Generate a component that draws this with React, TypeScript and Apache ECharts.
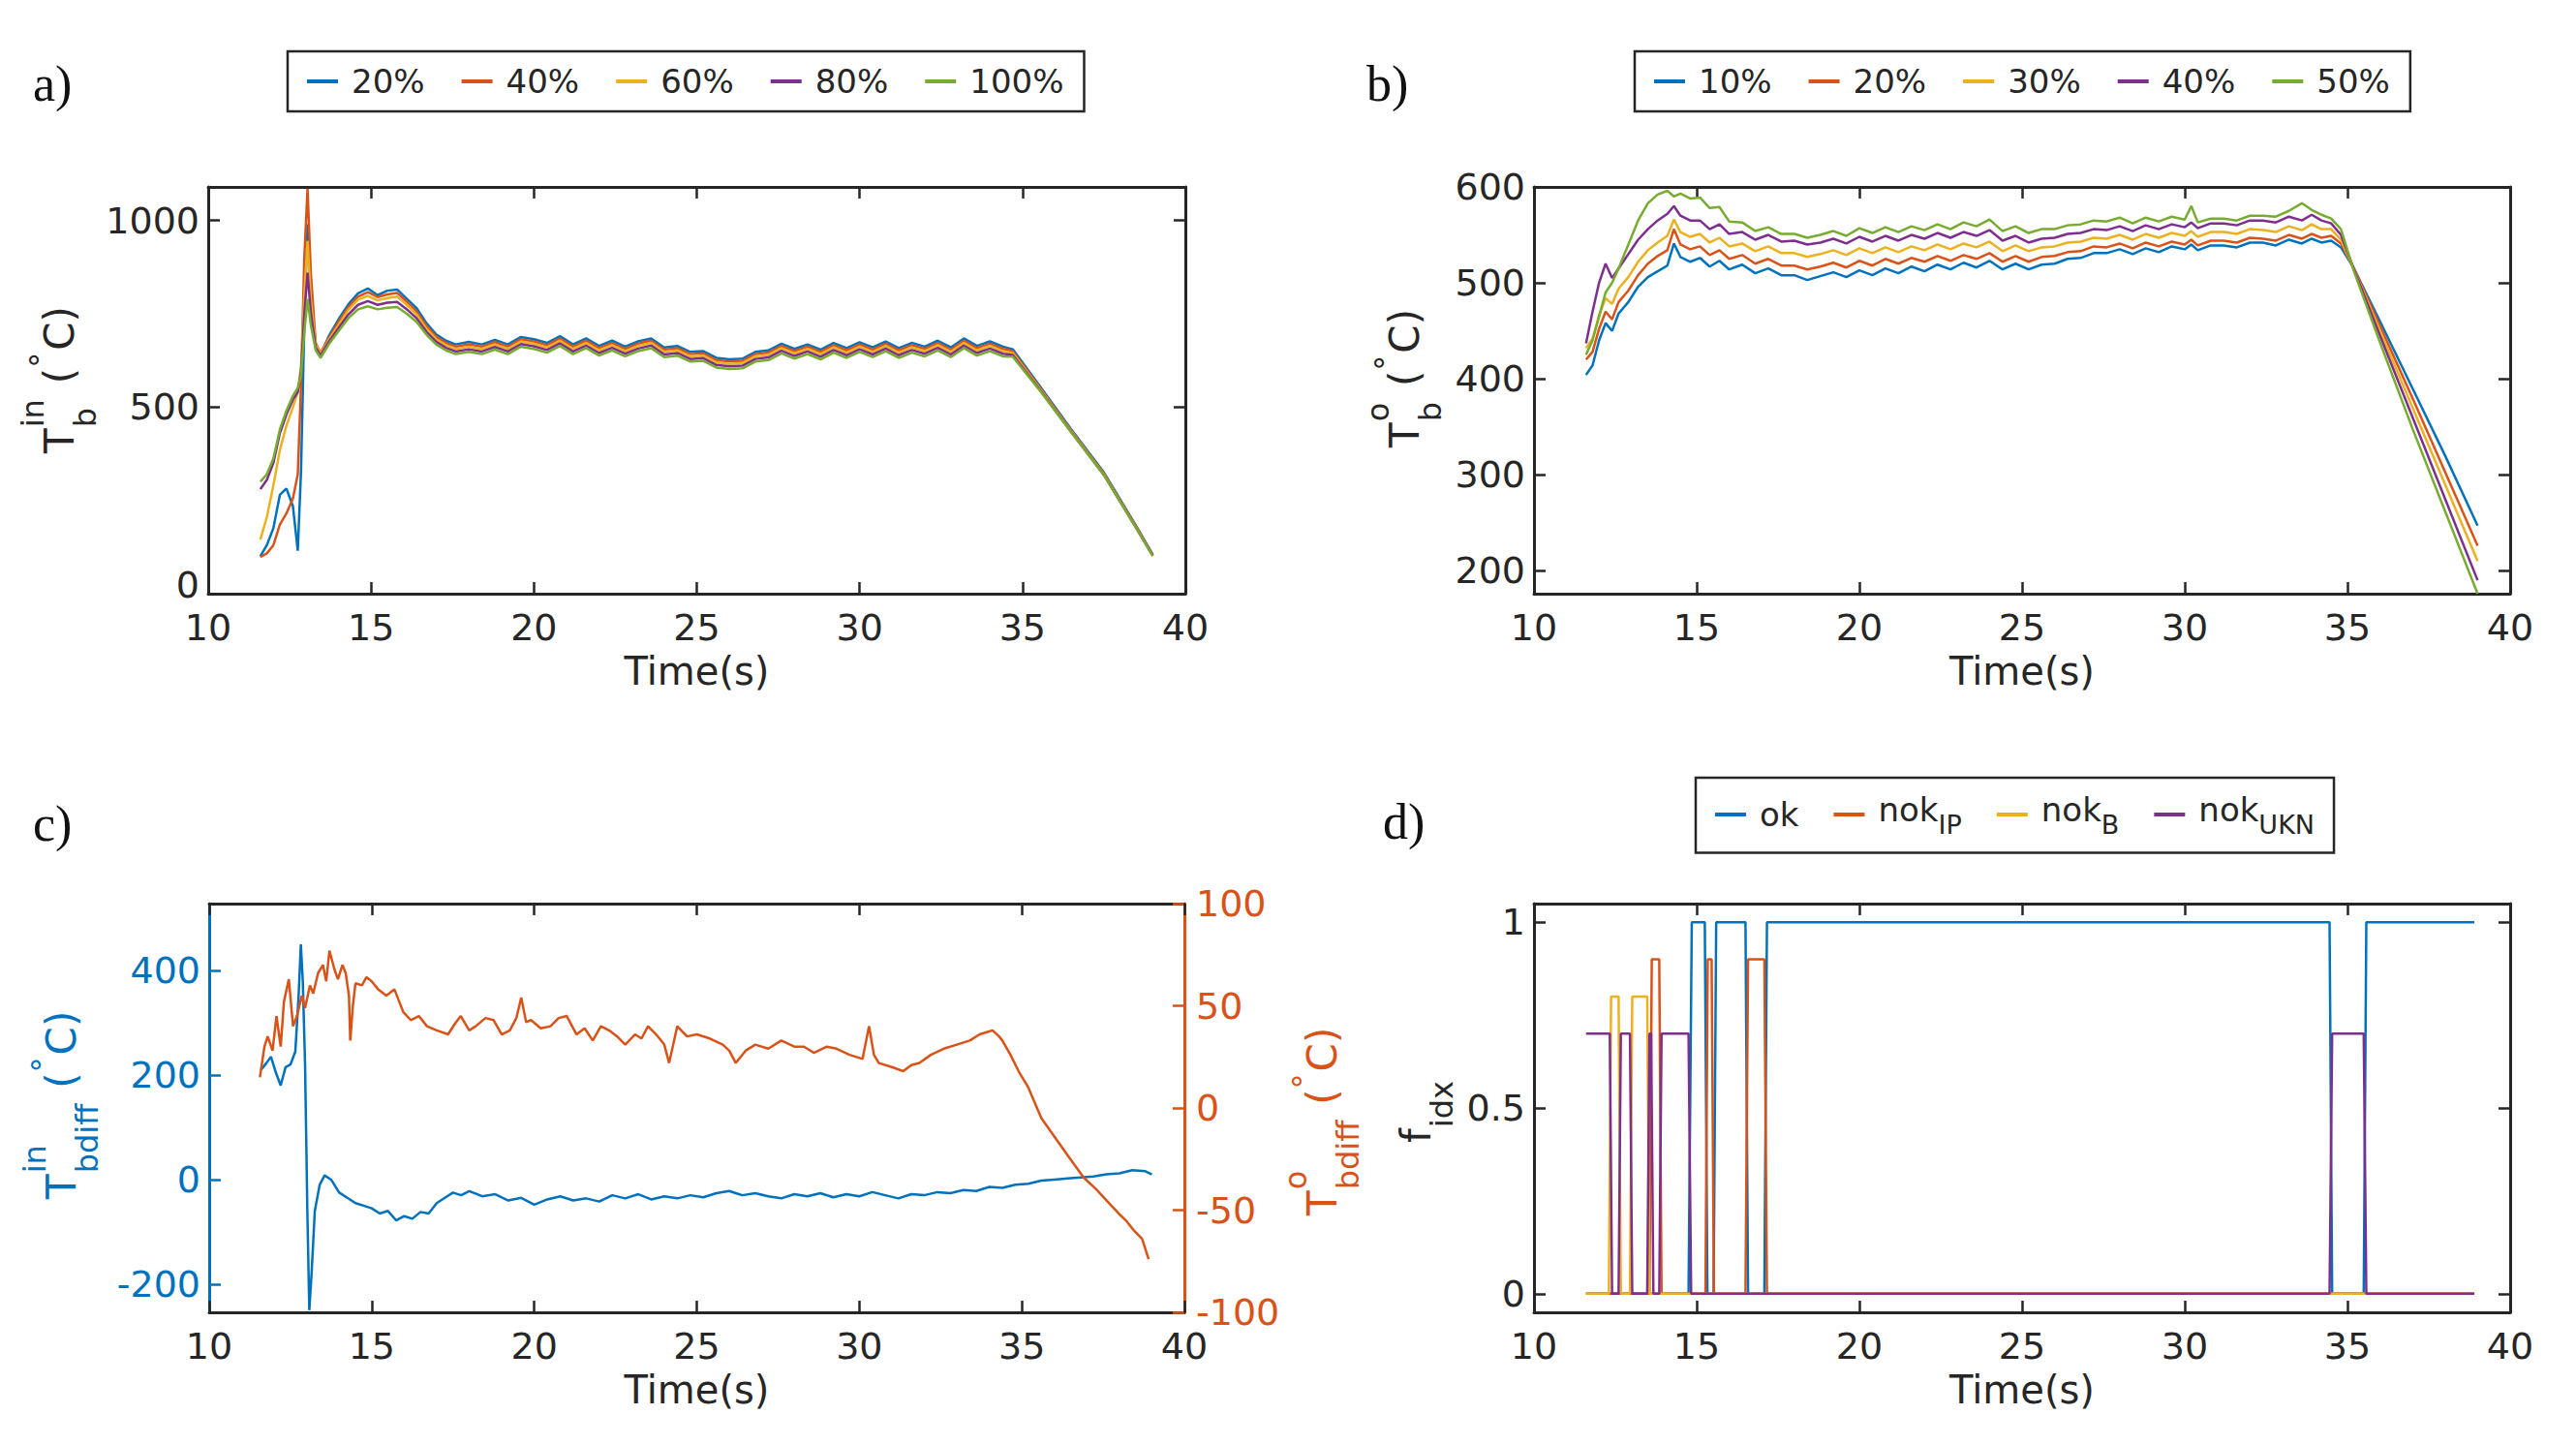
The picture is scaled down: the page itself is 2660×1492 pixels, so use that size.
import React, { useEffect, useRef } from 'react';
import * as echarts from 'echarts';

// ---- a) inner bar temperature, one line per position ----
const tA = [
  11.6, 11.8, 12.0, 12.2, 12.4, 12.6, 12.75, 12.85, 12.95, 13.05,
  13.15, 13.3, 13.45, 13.7, 14.0, 14.3, 14.6, 14.9, 15.2, 15.5,
  15.8, 16.1, 16.4, 16.7, 17.0, 17.3, 17.6, 18.0, 18.4, 18.8,
  19.2, 19.6, 20.0, 20.4, 20.8, 21.2, 21.6, 22.0, 22.4, 22.8,
  23.2, 23.6, 24.0, 24.4, 24.8, 25.2, 25.6, 26.0, 26.4, 26.8,
  27.2, 27.6, 28.0, 28.4, 28.8, 29.2, 29.6, 30.0, 30.4, 30.8,
  31.2, 31.6, 32.0, 32.4, 32.8, 33.2, 33.6, 34.0, 34.4, 34.7,
  35.5, 36.5, 37.5, 38.5, 39.0,
];
const a20 = [
  100, 130, 175, 265, 282, 235, 115, 330, 720, 990,
  800, 665, 640, 690, 735, 775, 805, 818, 800, 812,
  815, 790, 765, 725, 695, 678, 668, 675, 668, 680,
  668, 688, 682, 672, 690, 668, 684, 664, 678, 662,
  676, 684, 660, 664, 648, 650, 632, 628, 630, 648,
  652, 670, 656, 668, 654, 672, 658, 674, 660, 676,
  658, 672, 662, 678, 660, 684, 664, 676, 662, 655,
  560, 440, 325, 180, 105,
];
const a40 = [
  98, 108, 130, 185, 215, 255, 320, 560, 900, 1085,
  860, 672, 645, 685, 728, 768, 796, 808, 795, 802,
  806, 782, 756, 718, 688, 672, 662, 668, 662, 674,
  662, 682, 676, 666, 684, 662, 678, 658, 672, 656,
  670, 678, 654, 658, 642, 644, 626, 622, 624, 642,
  646, 664, 650, 662, 648, 666, 652, 668, 654, 670,
  652, 666, 656, 672, 654, 678, 658, 670, 656, 650,
  556, 437, 322, 178, 103,
];
const a60 = [
  145, 205, 290, 385, 450, 500, 540, 610, 800, 945,
  790, 668, 642, 680, 720, 760, 788, 798, 786, 792,
  796, 774, 748, 710, 682, 666, 656, 662, 656, 668,
  656, 676, 670, 660, 678, 656, 672, 652, 666, 650,
  664, 672, 648, 652, 636, 638, 620, 616, 618, 636,
  640, 658, 644, 656, 642, 660, 646, 662, 648, 664,
  646, 660, 650, 666, 648, 672, 652, 664, 650, 645,
  553, 435, 320, 176, 102,
];
const a80 = [
  280, 305, 350, 430, 480, 520, 540, 595, 750, 860,
  755, 660, 638, 675, 712, 748, 774, 784, 774, 780,
  782, 762, 738, 702, 675, 659, 649, 655, 649, 661,
  649, 669, 663, 653, 671, 649, 665, 645, 659, 643,
  657, 665, 641, 645, 629, 631, 613, 609, 611, 629,
  633, 651, 637, 649, 635, 653, 639, 655, 641, 657,
  639, 653, 643, 659, 641, 665, 645, 657, 643, 640,
  550, 433, 318, 175, 102,
];
const a100 = [
  300, 320, 362, 440, 490, 530, 552, 585, 700, 790,
  720, 652, 632, 668, 703, 738, 762, 770, 762, 766,
  768, 750, 728, 694, 668, 652, 642, 648, 642, 654,
  642, 662, 656, 646, 664, 642, 658, 638, 652, 636,
  650, 658, 634, 638, 622, 624, 606, 602, 604, 622,
  626, 644, 630, 642, 628, 646, 632, 648, 634, 650,
  632, 646, 636, 652, 634, 658, 638, 650, 636, 635,
  548, 432, 318, 174, 101,
];

// ---- b) outer bar temperature ----
const tB = [
  11.6, 11.8, 12.0, 12.2, 12.4, 12.6, 12.9, 13.2, 13.5, 13.8,
  14.1, 14.3, 14.5, 14.8, 15.1, 15.4, 15.7, 16.0, 16.4, 16.8,
  17.2, 17.6, 18.0, 18.4, 18.8, 19.2, 19.6, 20.0, 20.4, 20.8,
  21.2, 21.6, 22.0, 22.4, 22.8, 23.2, 23.6, 24.0, 24.4, 24.8,
  25.2, 25.6, 26.0, 26.4, 26.8, 27.2, 27.6, 28.0, 28.4, 28.8,
  29.2, 29.6, 30.0, 30.2, 30.4, 30.8, 31.2, 31.6, 32.0, 32.4,
  32.8, 33.2, 33.6, 33.9, 34.2, 34.5, 34.8, 35.2, 36.0, 37.0,
  38.0, 39.0,
];
const b10 = [
  404, 414, 440, 458, 450, 468, 480, 496, 506, 512,
  518, 541, 527, 522, 526, 517, 523, 514, 519, 510,
  515, 508, 508, 503, 507, 511, 506, 513, 508, 515,
  510, 517, 512, 519, 514, 521, 516, 523, 514, 520,
  514, 519, 520, 525, 526, 531, 531, 535, 530, 536,
  532, 538, 535, 540, 534, 539, 539, 537, 542, 542,
  539, 545, 541, 546, 542, 544, 537, 515, 460, 390,
  320, 247,
];
const b20 = [
  420, 428, 452, 470, 462, 480, 492, 508, 520, 528,
  534, 556, 540, 535, 538, 529, 534, 525, 529, 520,
  525, 518, 518, 514, 517, 521, 516, 523, 518, 525,
  520, 526, 522, 528, 523, 529, 525, 531, 522, 528,
  522, 527, 528, 532, 533, 538, 537, 541, 536, 542,
  538, 543, 540, 545, 539, 544, 544, 542, 547, 546,
  544, 550, 546, 551, 547, 549, 541, 515, 455, 380,
  303, 226,
];
const b30 = [
  432, 442, 466, 484, 478, 494, 506, 522, 534, 542,
  549, 566, 553, 548, 551, 542, 547, 538, 541, 533,
  538, 531, 531, 527, 530, 534, 529, 536, 531, 537,
  532, 538, 534, 540, 535, 541, 537, 543, 533, 539,
  533, 537, 538, 542, 543, 547, 546, 550, 545, 551,
  547, 552, 549, 554, 548, 553, 553, 551, 556, 555,
  553, 559, 555, 561, 556, 556, 545, 514, 450, 370,
  290, 210,
];
const b40 = [
  437, 470, 500, 520, 505, 515, 530, 545, 556, 565,
  572, 580, 570, 565, 565, 556, 561, 551, 553, 545,
  550, 543, 544, 540, 542, 546, 541, 548, 543, 549,
  544, 550, 546, 552, 547, 553, 549, 555, 544, 549,
  542, 546, 547, 551, 552, 556, 555, 559, 554, 560,
  556, 561, 558, 563, 557, 562, 562, 560, 565, 565,
  563, 569, 565, 571, 565, 562, 550, 514, 445, 360,
  275, 190,
];
const b50 = [
  425, 440, 465, 490, 500, 515, 540, 565, 583, 592,
  596, 590, 593, 588, 589, 578, 579, 564, 563, 554,
  558, 551, 551, 547, 550, 554, 549, 557, 552, 558,
  553, 559, 555, 561, 556, 563, 559, 566, 554, 559,
  552, 556, 556, 560, 561, 565, 564, 568, 562, 568,
  564, 569, 566, 580, 563, 567, 567, 565, 570, 570,
  569, 575, 583, 576, 571, 567, 556, 512, 438, 348,
  262, 176,
];

// ---- c) temperature differences (left: inner, right: outer) ----
const tC1 = [
  11.6, 11.75, 11.9, 12.05, 12.2, 12.35, 12.5, 12.65, 12.75, 12.82,
  12.88, 12.95, 13.02, 13.08, 13.15, 13.25, 13.4, 13.55, 13.75, 14.0,
  14.25, 14.5, 14.75, 15.0, 15.25, 15.5, 15.75, 16.0, 16.25, 16.5,
  16.75, 17.0, 17.25, 17.5, 17.75, 18.0, 18.4, 18.8, 19.2, 19.6,
  20.0, 20.4, 20.8, 21.2, 21.6, 22.0, 22.4, 22.8, 23.2, 23.6,
  24.0, 24.4, 24.8, 25.2, 25.6, 26.0, 26.4, 26.8, 27.2, 27.6,
  28.0, 28.4, 28.8, 29.2, 29.6, 30.0, 30.4, 30.8, 31.2, 31.6,
  32.0, 32.4, 32.8, 33.2, 33.6, 34.0, 34.4, 34.8, 35.2, 35.6,
  36.0, 36.4, 36.8, 37.2, 37.6, 38.0, 38.4, 38.8, 39.0,
];
const cIn = [
  210, 222, 235, 205, 180, 215, 220, 245, 350, 450,
  380, 220, -60, -250, -180, -60, -10, 8, 0, -25,
  -35, -45, -50, -55, -65, -60, -78, -70, -75, -62,
  -65, -45, -35, -25, -30, -22, -32, -28, -40, -35,
  -48, -38, -32, -40, -36, -42, -30, -36, -28, -38,
  -32, -36, -30, -34, -26, -22, -30, -26, -32, -36,
  -28, -32, -26, -34, -28, -32, -24, -30, -36, -28,
  -30, -24, -26, -20, -22, -14, -16, -10, -8, -2,
  0, 2, 4, 6, 10, 12, 18, 16, 10,
];
const tC2 = [
  11.56, 11.7, 11.8, 11.95, 12.07, 12.2, 12.3, 12.45, 12.58, 12.7,
  12.85, 12.95, 13.1, 13.2, 13.35, 13.5, 13.6, 13.7, 13.85, 13.96,
  14.1, 14.2, 14.3, 14.34, 14.42, 14.5, 14.7, 14.84, 15.0, 15.2,
  15.45, 15.7, 15.97, 16.2, 16.45, 16.7, 17.0, 17.35, 17.55, 17.74,
  18.0, 18.2, 18.5, 18.75, 19.0, 19.25, 19.45, 19.6, 19.75, 19.9,
  20.2, 20.5, 20.75, 21.0, 21.3, 21.55, 21.8, 22.05, 22.3, 22.55,
  22.8, 23.1, 23.3, 23.5, 23.75, 24.0, 24.15, 24.4, 24.7, 25.0,
  25.4, 25.8, 26.0, 26.2, 26.5, 26.8, 27.2, 27.6, 28.0, 28.3,
  28.6, 29.0, 29.3, 29.7, 30.1, 30.3, 30.45, 30.6, 31.0, 31.35,
  31.6, 31.85, 32.2, 32.6, 33.0, 33.4, 33.7, 34.1, 34.3, 34.4,
  34.65, 34.9, 35.2, 35.6, 36.0, 36.4, 36.9, 37.3, 37.65, 38.0,
  38.2, 38.45, 38.7, 38.9,
];
const cOut = [
  15, 30, 35, 28, 45, 30, 52, 63, 40, 45,
  55, 49, 60, 56, 66, 70, 62, 77, 68, 63,
  70, 66, 55, 33, 50, 61, 60, 64, 62, 58,
  55, 58, 47, 43, 45, 40, 38, 36, 41, 45,
  38, 40, 44, 43, 36, 38, 44, 54, 42, 43,
  39, 40, 44, 45, 36, 39, 33, 40, 38, 35,
  31, 36, 34, 40, 36, 31, 22, 40, 35, 36,
  34, 31, 28, 22, 28, 31, 29, 33, 30, 30,
  27, 30, 29, 26, 24, 40, 26, 22, 20, 18,
  21, 22, 26, 29, 31, 33, 36, 38, 35, 33,
  26, 18, 10, -5, -14, -23, -34, -40, -46, -52,
  -55, -60, -64, -74,
];

// ---- d) fault index steps ----
const okT = [11.6, 14.75, 14.85, 15.25, 15.33, 15.52, 15.6, 16.5, 16.58, 17.08, 17.16, 34.45, 34.53, 35.5, 35.58, 38.9];
const okV = [0, 0, 1, 1, 0, 0, 1, 1, 0, 0, 1, 1, 0, 0, 1, 1];
const ipT = [11.6, 13.55, 13.62, 13.85, 13.92, 15.27, 15.34, 15.46, 15.53, 16.5, 16.58, 17.08, 17.16, 38.9];
const ipV = [0, 0, 0.9, 0.9, 0, 0, 0.9, 0.9, 0, 0, 0.9, 0.9, 0, 0];
const bT = [11.6, 12.3, 12.37, 12.6, 12.67, 12.95, 13.02, 13.48, 13.55, 38.9];
const bV = [0, 0, 0.8, 0.8, 0, 0, 0.8, 0.8, 0, 0];
const ukT = [11.6, 12.33, 12.4, 12.6, 12.67, 12.95, 13.02, 13.48, 13.55, 13.6, 13.67, 13.85, 13.92, 14.75, 14.83, 34.45, 34.53, 35.5, 35.58, 38.9];
const ukV = [0.7, 0.7, 0, 0, 0.7, 0.7, 0, 0, 0.7, 0.7, 0, 0, 0.7, 0.7, 0, 0, 0.7, 0.7, 0, 0];

const xTicks = [10, 15, 20, 25, 30, 35, 40];
const yTicksA = [0, 500, 1000];
const yTicksB = [200, 300, 400, 500, 600];
const yTicksCin = [-200, 0, 200, 400];
const yTicksCout = [-100, -50, 0, 50, 100];
const yTicksD = [0, 0.5, 1];

const BLUE = '#0072BD';
const ORANGE = '#D95319';
const YELLOW = '#EDB120';
const PURPLE = '#7E2F8E';
const GREEN = '#77AC30';
const INK = '#262626';
const FONT = 'DejaVu Sans';

const pairs = (t: number[], v: number[]) => t.map((x, i) => [x, v[i]]);

const line = (name: string, t: number[], v: number[], color: string, xi: number, yi: number) => ({
  type: 'line',
  name,
  data: pairs(t, v),
  xAxisIndex: xi,
  yAxisIndex: yi,
  symbol: 'none',
  showSymbol: false,
  silent: true,
  lineStyle: { color, width: 2.5 },
  itemStyle: { color },
});

const plain = (v: number) => String(v);
// the bottom "0" of panel a sits right above the x label "10"; lift it a little
const liftZero = (v: number) => (v === 0 ? '{z|0}' : String(v));

const xAxes = (gi: number) => [
  {
    type: 'value', gridIndex: gi, position: 'bottom', min: 10, max: 40, interval: 5,
    axisLine: { onZero: false, lineStyle: { color: INK, width: 3 } },
    axisTick: { inside: true, length: 12, customValues: xTicks, lineStyle: { color: INK, width: 2.5 } },
    axisLabel: {
      margin: 20, fontSize: 38, lineHeight: 30, color: INK, fontFamily: FONT,
      customValues: xTicks, formatter: plain,
    },
    splitLine: { show: false },
    name: 'Time(s)', nameLocation: 'middle', nameGap: 60,
    nameTextStyle: { fontSize: 40, color: INK, fontFamily: FONT },
  },
  {
    type: 'value', gridIndex: gi, position: 'top', min: 10, max: 40, interval: 5,
    axisLine: { onZero: false, lineStyle: { color: INK, width: 3 } },
    axisTick: { inside: true, length: 12, customValues: xTicks, lineStyle: { color: INK, width: 2.5 } },
    axisLabel: { show: false },
    splitLine: { show: false },
  },
];

const yAxis = (
  gi: number, pos: string, min: number, max: number, ticks: number[], color: string, labels: boolean,
  fmt: (v: number) => string = plain,
) => ({
  type: 'value', gridIndex: gi, position: pos, min, max,
  axisLine: { show: true, onZero: false, lineStyle: { color, width: 3 } },
  axisTick: { show: true, inside: true, length: 12, customValues: ticks, lineStyle: { color, width: 2.5 } },
  axisLabel: {
    show: labels, margin: pos === 'left' ? 9 : 12, fontSize: 38, lineHeight: 30, color, fontFamily: FONT,
    customValues: ticks, formatter: fmt,
    rich: { z: { fontSize: 38, lineHeight: 30, color, fontFamily: FONT, padding: [0, 0, 18, 0] } },
  },
  splitLine: { show: false },
});

let measureCtx: CanvasRenderingContext2D | null = null;
const tw = (s: string, size: number) => {
  if (!measureCtx) measureCtx = document.createElement('canvas').getContext('2d');
  measureCtx!.font = `${size}px "${FONT}"`;
  return measureCtx!.measureText(s).width;
};

const txt = (text: string, x: number, y: number, size: number, color: string, family = FONT) => ({
  type: 'text', x, y, silent: true,
  style: {
    text, fontSize: size, fontFamily: family, fill: color,
    align: 'left', verticalAlign: 'middle', textAlign: 'left', textVerticalAlign: 'middle',
  },
});

// rotated y title: main letter with stacked super/subscript, optional (°C)
const yTitle = (bx: number, by: number, color: string, main: string, sup: string, sub: string, unit: boolean) => {
  const F = 42, S = 32, k = 0.34;
  const x0 = tw(main, F) + 1;
  const w = Math.max(sup ? tw(sup, S) : 0, sub ? tw(sub, S) : 0);
  const kids: any[] = [txt(main, 0, -k * F, F, color)];
  if (sup) kids.push(txt(sup, x0, -31 - k * S, S, color));
  if (sub) kids.push(txt(sub, x0, 23 - k * S, S, color));
  if (unit) {
    let p = x0 + w + 16;
    kids.push(txt('(', p, -k * F, F, color));
    p += tw('(', F);
    kids.push(txt('°', p, -22 - k * S, S, color));
    p += tw('°', S) + 2;
    kids.push(txt('C)', p, -k * F, F, color));
  }
  return { type: 'group', x: bx, y: by, rotation: Math.PI / 2, children: kids };
};

const legendBase = {
  orient: 'horizontal',
  icon: 'rect',
  itemWidth: 32,
  itemHeight: 4,
  itemGap: 38,
  padding: [14, 21, 14, 20],
  borderColor: INK,
  borderWidth: 2.5,
  backgroundColor: '#ffffff',
  selectedMode: false,
  textStyle: { fontSize: 34, color: INK, fontFamily: FONT, padding: [0, 0, 0, 9] },
};

const buildOption = () => ({
  animation: false,
  backgroundColor: '#ffffff',
  textStyle: { fontFamily: FONT },
  grid: [
    { left: 215, top: 193, width: 1009, height: 420, containLabel: false, outerBoundsMode: 'none' },
    { left: 1584, top: 193, width: 1008, height: 420, containLabel: false, outerBoundsMode: 'none' },
    { left: 216, top: 933, width: 1007, height: 422, containLabel: false, outerBoundsMode: 'none' },
    { left: 1584, top: 933, width: 1008, height: 422, containLabel: false, outerBoundsMode: 'none' },
  ],
  xAxis: [...xAxes(0), ...xAxes(1), ...xAxes(2), ...xAxes(3)],
  yAxis: [
    yAxis(0, 'left', 0, 1090, yTicksA, INK, true, liftZero),
    yAxis(0, 'right', 0, 1090, yTicksA, INK, false),
    yAxis(1, 'left', 176, 600, yTicksB, INK, true),
    yAxis(1, 'right', 176, 600, yTicksB, INK, false),
    yAxis(2, 'left', -254, 528, yTicksCin, BLUE, true),
    yAxis(2, 'right', -100, 100, yTicksCout, ORANGE, true),
    yAxis(3, 'left', -0.05, 1.05, yTicksD, INK, true),
    yAxis(3, 'right', -0.05, 1.05, yTicksD, INK, false),
  ],
  legend: [
    {
      ...legendBase, left: 297, top: 53,
      data: ['a20', 'a40', 'a60', 'a80', 'a100'],
      formatter: (n: string) => n.slice(1) + '%',
    },
    {
      ...legendBase, left: 1688, top: 53,
      data: ['b10', 'b20', 'b30', 'b40', 'b50'],
      formatter: (n: string) => n.slice(1) + '%',
    },
    {
      ...legendBase, left: 1751, top: 803, itemGap: 36, padding: [16, 20, 16, 20],
      data: ['ok', 'nokIP', 'nokB', 'nokUKN'],
      formatter: (n: string) => (n === 'ok' ? '{o|ok}' : `{m|nok}{s|${n.slice(3)}}`),
      textStyle: {
        fontSize: 34, color: INK, fontFamily: FONT, padding: [0, 0, 0, 9],
        rich: {
          o: { fontSize: 34, color: INK, fontFamily: FONT },
          m: { fontSize: 34, color: INK, fontFamily: FONT, padding: [0, 0, 10, 0] },
          s: { fontSize: 27, color: INK, fontFamily: FONT, padding: [20, 0, 0, 0] },
        },
      },
    },
  ],
  graphic: [
    txt('a)', 34, 86, 52, '#111111', 'Liberation Serif'),
    txt('b)', 1411, 86, 52, '#111111', 'Liberation Serif'),
    txt('c)', 34, 850, 52, '#111111', 'Liberation Serif'),
    txt('d)', 1428, 848, 52, '#111111', 'Liberation Serif'),
    yTitle(76, 468, INK, 'T', 'in', 'b', true),
    yTitle(1465, 462, INK, 'T', 'o', 'b', true),
    yTitle(78, 1238, BLUE, 'T', 'in', 'bdiff', true),
    yTitle(1380, 1255, ORANGE, 'T', 'o', 'bdiff', true),
    yTitle(1477, 1180, INK, 'f', '', 'idx', false),
  ],
  series: [
    line('a20', tA, a20, BLUE, 0, 0),
    line('a40', tA, a40, ORANGE, 0, 0),
    line('a60', tA, a60, YELLOW, 0, 0),
    line('a80', tA, a80, PURPLE, 0, 0),
    line('a100', tA, a100, GREEN, 0, 0),
    line('b10', tB, b10, BLUE, 2, 2),
    line('b20', tB, b20, ORANGE, 2, 2),
    line('b30', tB, b30, YELLOW, 2, 2),
    line('b40', tB, b40, PURPLE, 2, 2),
    line('b50', tB, b50, GREEN, 2, 2),
    line('cIn', tC1, cIn, BLUE, 4, 4),
    line('cOut', tC2, cOut, ORANGE, 4, 5),
    line('ok', okT, okV, BLUE, 6, 6),
    line('nokIP', ipT, ipV, ORANGE, 6, 6),
    line('nokB', bT, bV, YELLOW, 6, 6),
    line('nokUKN', ukT, ukV, PURPLE, 6, 6),
  ],
});

export default function App() {
  const ref = useRef<HTMLDivElement>(null);

  useEffect(() => {
    const chart = echarts.init(ref.current, null, { renderer: 'svg' });
    chart.setOption(buildOption() as any);
    return () => {
      chart.dispose();
    };
  }, []);

  return (
    <div
      ref={ref}
      style={{ position: 'absolute', left: 0, top: 0, width: 2660, height: 1492, background: '#fff' }}
    />
  );
}
